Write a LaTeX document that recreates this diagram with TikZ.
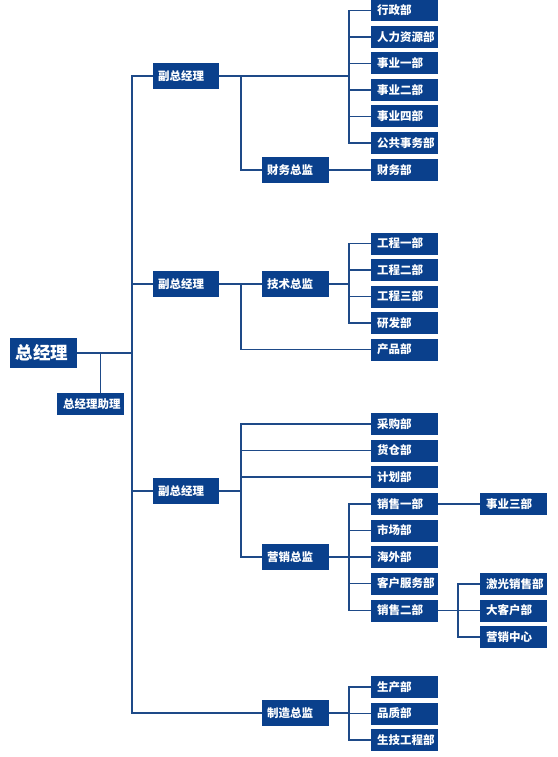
\documentclass[tikz,border=0pt]{standalone}
\usepackage{fontspec}
\setmainfont{Noto Sans CJK SC}
\definecolor{boxblue}{RGB}{10,64,140}
\definecolor{lineblue}{RGB}{30,74,136}
\begin{document}
\begin{tikzpicture}[x=1pt,y=-1pt,
  base/.style={fill=boxblue,text=white,font=\bfseries\fontsize{11.5}{12}\selectfont,align=left,inner ysep=0pt,anchor=center},
  dept/.style={base,text width=55pt,inner xsep=6pt,minimum height=22pt},
  dir/.style={base,text width=56pt,inner xsep=5pt,minimum height=26pt},
  conn/.style={draw=lineblue,line width=1.4pt}]
\useasboundingbox (0,0) rectangle (557,757);
% coordinates of vertical lines
\coordinate (tk) at (132,0);
\coordinate (m1) at (241,0);
\coordinate (b1) at (349,0);
\coordinate (b2) at (458,0);
% top level
\node[base,text width=55pt,inner xsep=6pt,minimum height=30pt,font=\bfseries\fontsize{17.5}{18}\selectfont] (gm) at (43.5,353) {总经理};
\node[dept] (asst) at (90.5,404) {总经理助理};
\node[dir] (vp1) at (186,76) {副总经理};
\node[dir] (vp2) at (186,284) {副总经理};
\node[dir] (vp3) at (186,491) {副总经理};
% directors
\node[dir,text width=57pt] (fd) at (295.5,170) {财务总监};
\node[dir,text width=57pt] (td) at (295.5,284) {技术总监};
\node[dir,text width=57pt] (md) at (295.5,557) {营销总监};
\node[dir,text width=57pt] (mfg) at (295.5,713) {制造总监};
% column 3
\node[dept] (a1) at (404.5,10.5) {行政部};
\node[dept] (a2) at (404.5,37) {人力资源部};
\node[dept] (a3) at (404.5,63.5) {事业一部};
\node[dept] (a4) at (404.5,90) {事业二部};
\node[dept] (a5) at (404.5,116.5) {事业四部};
\node[dept] (a6) at (404.5,143) {公共事务部};
\node[dept] (fin) at (404.5,170) {财务部};
\node[dept] (e1) at (404.5,243.5) {工程一部};
\node[dept] (e2) at (404.5,270) {工程二部};
\node[dept] (e3) at (404.5,296.5) {工程三部};
\node[dept] (rd) at (404.5,323) {研发部};
\node[dept] (prod) at (404.5,349.5) {产品部};
\node[dept] (c1) at (404.5,424) {采购部};
\node[dept] (c2) at (404.5,450.5) {货仓部};
\node[dept] (c3) at (404.5,477) {计划部};
\node[dept] (s1) at (404.5,504) {销售一部};
\node[dept] (s2) at (404.5,530.5) {市场部};
\node[dept] (s3) at (404.5,557) {海外部};
\node[dept] (s4) at (404.5,583.5) {客户服务部};
\node[dept] (s5) at (404.5,610.5) {销售二部};
\node[dept] (p1) at (404.5,687) {生产部};
\node[dept] (p2) at (404.5,713.5) {品质部};
\node[dept] (p3) at (404.5,740) {生技工程部};
% column 4
\node[dept] (biz3) at (513.5,504) {事业三部};
\node[dept] (g1) at (513.5,584) {激光销售部};
\node[dept] (g2) at (513.5,610.5) {大客户部};
\node[dept] (g3) at (513.5,637) {营销中心};
% trunk
\draw[conn] (vp1.west) -- (tk|-vp1.west) -- (tk|-mfg.west) -- (mfg.west);
\draw[conn] (vp2.west) -- (tk|-vp2.west);
\draw[conn] (vp3.west) -- (tk|-vp3.west);
\draw[conn] (gm.east) -- (tk|-gm.east);
\draw[conn] ([xshift=10pt]asst.north) -- ([xshift=10pt]asst.north |- gm.east);
% VP1
\draw[conn] (vp1.east) -- (b1|-vp1.east);
\draw[conn] (a1.west) -- (b1|-a1.west) -- (b1|-a6.west) -- (a6.west);
\foreach \n in {a2,a3,a4,a5} \draw[conn] (b1|-\n.west) -- (\n.west);
\draw[conn] (m1|-vp1.east) -- (m1|-fd.west) -- (fd.west);
\draw[conn] (fd.east) -- (fin.west);
% VP2
\draw[conn] (vp2.east) -- (td.west);
\draw[conn] (td.east) -- (b1|-td.east);
\draw[conn] (e1.west) -- (b1|-e1.west) -- (b1|-rd.west) -- (rd.west);
\foreach \n in {e2,e3} \draw[conn] (b1|-\n.west) -- (\n.west);
\draw[conn] (m1|-vp2.east) -- (m1|-prod.west) -- (prod.west);
% VP3
\draw[conn] (vp3.east) -- (m1|-vp3.east);
\draw[conn] (c1.west) -- (m1|-c1.west) -- (m1|-md.west) -- (md.west);
\foreach \n in {c2,c3} \draw[conn] (m1|-\n.west) -- (\n.west);
\draw[conn] (md.east) -- (b1|-md.east);
\draw[conn] (s1.west) -- (b1|-s1.west) -- (b1|-s5.west) -- (s5.west);
\foreach \n in {s2,s3,s4} \draw[conn] (b1|-\n.west) -- (\n.west);
\draw[conn] (s1.east) -- (biz3.west);
\draw[conn] (s5.east) -- (b2|-s5.east);
\draw[conn] (g1.west) -- (b2|-g1.west) -- (b2|-g3.west) -- (g3.west);
\draw[conn] (b2|-g2.west) -- (g2.west);
% manufacturing
\draw[conn] (mfg.east) -- (b1|-mfg.east);
\draw[conn] (p1.west) -- (b1|-p1.west) -- (b1|-p3.west) -- (p3.west);
\draw[conn] (b1|-p2.west) -- (p2.west);
\end{tikzpicture}
\end{document}
